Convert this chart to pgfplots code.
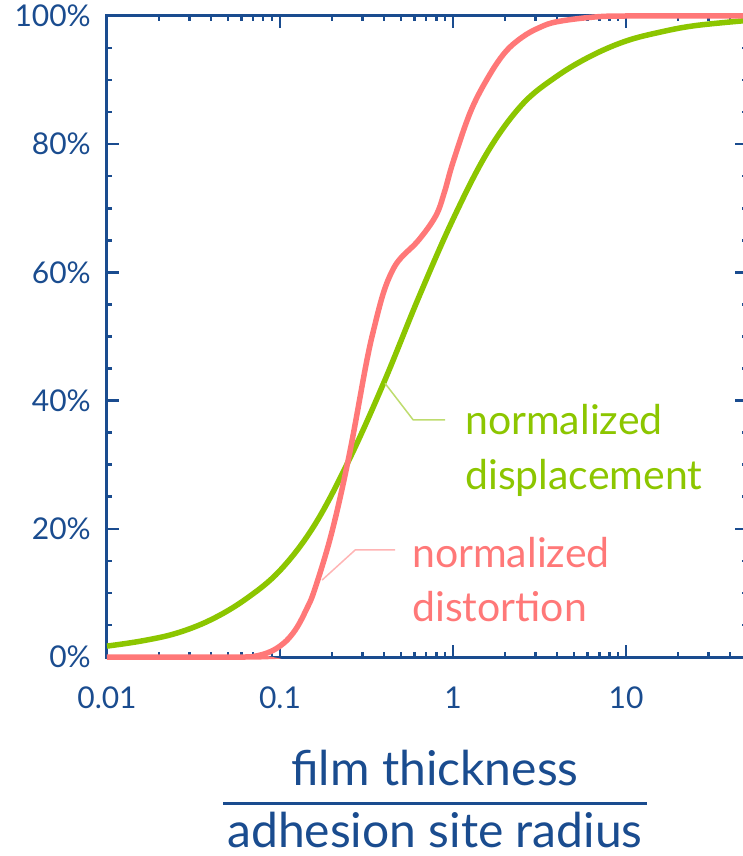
\documentclass[border=0pt]{standalone}
\usepackage{pgfplots}
\pgfplotsset{compat=1.18}
\usepackage{fontspec}
\setmainfont{Lato}
\definecolor{axblue}{RGB}{26,76,143}
\definecolor{dgreen}{RGB}{140,198,0}
\definecolor{dpink}{RGB}{255,120,120}
\definecolor{lgreen}{RGB}{190,220,110}
\definecolor{lpink}{RGB}{255,180,180}
\begin{document}
\begin{tikzpicture}
\useasboundingbox (-107pt,-199pt) rectangle (635pt,657pt);
\begin{axis}[
  at={(0,0)}, anchor=south west,
  scale only axis, width=640pt, height=641pt,
  xmode=log, xmin=0.01, xmax=50, ymin=0, ymax=100,
  clip=false,
  axis line style={axblue, line width=3pt},
  tick style={axblue, line width=2.5pt},
  tick align=inside,
  major tick length=12pt, minor tick length=5pt,
  xtick={0.01,0.1,1,10},
  xticklabels={0.01,0.1,1,10},
  minor xtick={0.02,0.03,0.04,0.05,0.06,0.07,0.08,0.09,0.2,0.3,0.4,0.5,0.6,0.7,0.8,0.9,2,3,4,5,6,7,8,9,20,30,40},
  ytick={0,20,40,60,80,100},
  minor ytick={5,10,15,25,30,35,45,50,55,65,70,75,85,90,95},
  /pgf/number format/assume math mode=true,
  yticklabel={\pgfmathprintnumber{\tick}\%},
  ticklabel style={font=\fontsize{30}{36}\selectfont, text=axblue, inner sep=0pt},
  yticklabel style={xshift=-16pt},
  xticklabel style={yshift=-30pt},
]
\addplot[dgreen, line width=5.5pt, smooth, tension=0.6] coordinates {
 (0.01,1.7) (0.01585,2.5) (0.02512,3.7) (0.03981,5.8) (0.0631,9.0) (0.1,13.5)
 (0.1585,20.6) (0.2512,30.8) (0.3981,42.8) (0.631,56.0) (1.0,68.3)
 (1.585,78.8) (2.512,86.2) (3.981,90.6) (6.31,93.8) (10,96.1)
 (15.85,97.5) (25.12,98.5) (50,99.3)
};
\addplot[dpink, line width=5.5pt, smooth, tension=0.6] coordinates {
 (0.01,0) (0.0631,0) (0.0708,0.1) (0.0794,0.4) (0.0891,0.9) (0.1,1.7) (0.1122,2.9) (0.1259,4.7)
 (0.1413,7.3) (0.1585,10.5) (0.1995,19.5) (0.2512,31.5) (0.3162,46.0)
 (0.3548,52.0) (0.3981,57.0) (0.4467,60.3) (0.5012,62.3) (0.631,65.0)
 (0.7943,68.8) (0.8913,72.5) (1.0,77.2) (1.259,85.0) (1.585,90.3)
 (1.995,94.3) (2.512,96.7) (3.162,98.2) (3.981,99.1) (6.31,99.8) (10,100) (50,100)
};
\draw[lgreen, line width=1.5pt] (axis cs:0.4045,42.7) -- (axis cs:0.588,37.0) -- (axis cs:0.90,37.0);
\draw[lpink, line width=1.5pt] (axis cs:0.175,12.0) -- (axis cs:0.272,16.7) -- (axis cs:0.462,16.7);
\end{axis}
\begin{scope}[every node/.style={inner sep=0pt}]
\node[anchor=base west, text=dgreen, font=\fontsize{41}{48}\selectfont] at (358pt,222pt) {normalized};
\node[anchor=base west, text=dgreen, font=\fontsize{41}{48}\selectfont] at (358pt,167pt) {displacement};
\node[anchor=base west, text=dpink, font=\fontsize{41}{48}\selectfont] at (305pt,89pt) {normalized};
\node[anchor=base west, text=dpink, font=\fontsize{41}{48}\selectfont] at (305pt,35pt) {distortion};
\node[anchor=base, text=axblue, font=\fontsize{48}{56}\selectfont] at (328pt,-128pt) {film thickness};
\draw[axblue, line width=3pt] (116pt,-146pt) -- (540pt,-146pt);
\node[anchor=base, text=axblue, font=\fontsize{48}{56}\selectfont] at (328pt,-190pt) {adhesion site radius};
\end{scope}
\end{tikzpicture}
\end{document}
